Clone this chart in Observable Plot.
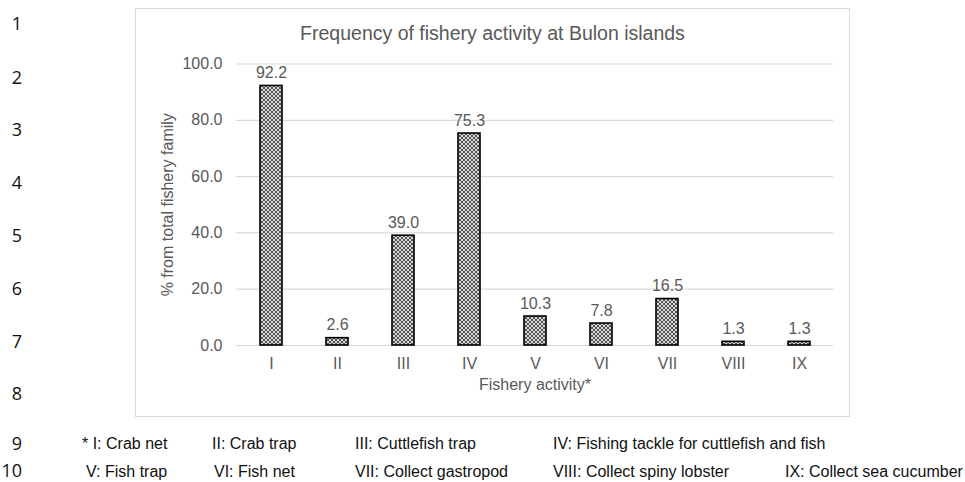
<!DOCTYPE html>
<html>
<head>
<meta charset="utf-8">
<script src="https://cdn.jsdelivr.net/npm/d3@7"></script>
<script src="https://cdn.jsdelivr.net/npm/@observablehq/plot@0.6"></script>
<style>
  html, body { margin: 0; padding: 0; background: #fff; }
  #wrap { position: relative; width: 965px; height: 482px; overflow: hidden; font-family: "Liberation Sans", Arial, sans-serif; }
  #chart { position: absolute; left: 0; top: 0; }
  .ov { position: absolute; white-space: nowrap; pointer-events: none; }
  .ln { font-family: "Open Sans", "Noto Sans", sans-serif; font-size: 18px; color: #111; width: 22px; text-align: right; left: 0; transform: translateY(-50%); }
  .fn { font-size: 16px; color: #111; transform: translateY(-50%); }
  #frame { position: absolute; left: 135px; top: 8px; width: 715px; height: 409px; border: 1.5px solid #d9d9d9; box-sizing: border-box; pointer-events: none; }
  #title { left: 135px; width: 715px; text-align: center; top: 33px; font-size: 19.5px; color: #595959; transform: translateY(-50%); }
</style>
</head>
<body>
<div id="wrap">
  <div id="chart"></div>
  <div id="frame"></div>
  <div class="ov" id="title">Frequency of fishery activity at Bulon islands</div>
</div>
<script>
// Data
const categories = ["I", "II", "III", "IV", "V", "VI", "VII", "VIII", "IX"];
const values = [92.2, 2.6, 39.0, 75.3, 10.3, 7.8, 16.5, 1.3, 1.3];
const yTicks = [0, 20, 40, 60, 80, 100];
const lineNumbers = ["1", "2", "3", "4", "5", "6", "7", "8", "9", "10"];
const lineNumberY = [23, 77, 129, 182, 235, 288, 341, 393, 443, 470];
const footRow1 = ["* I: Crab net", "II: Crab trap", "III: Cuttlefish trap", "IV: Fishing tackle for cuttlefish and fish"];
const footRow2 = ["V: Fish trap", "VI: Fish net", "VII: Collect gastropod", "VIII: Collect spiny lobster", "IX: Collect sea cucumber"];
const footRow1X = [82, 212, 355, 553];
const footRow2X = [86, 214, 355, 553, 785];
const yLabel = "% from total fishery family";
const xLabel = "Fishery activity*";

const data = categories.map((c, i) => ({cat: c, value: values[i]}));

const gray = "#595959";
const fs = 16;

const chart = Plot.plot({
  width: 965,
  height: 482,
  marginLeft: 236,
  marginRight: 132,
  marginTop: 63.5,
  marginBottom: 137,
  style: {fontFamily: "'Liberation Sans', Arial, sans-serif", background: "white"},
  x: {domain: categories, paddingInner: 0.67, paddingOuter: 0.335},
  y: {domain: [0, 100]},
  marks: [
    Plot.gridY(yTicks, {stroke: "#d9d9d9", strokeOpacity: 1, strokeWidth: 1.2}),
    Plot.axisY(yTicks, {tickSize: 0, tickPadding: 14, tickFormat: d => d.toFixed(1), fontSize: fs, fill: gray, label: null}),
    Plot.axisX({tickSize: 0, tickPadding: 12, fontSize: fs, fill: gray, label: null}),
    Plot.barY(data, {x: "cat", y: "value", fill: "url(#xhatch)", stroke: "#000", strokeWidth: 1.6}),
    Plot.text(data, {x: "cat", y: "value", text: d => d.value.toFixed(1), dy: -13, fontSize: fs, fill: gray}),
    Plot.text([yLabel], {frameAnchor: "left", textAnchor: "middle", dx: -69, rotate: -90, fontSize: 16, fill: gray}),
    Plot.text([xLabel], {frameAnchor: "bottom", textAnchor: "middle", dy: 44, fontSize: 16, fill: gray})
  ]
});

// pattern defs
const ns = "http://www.w3.org/2000/svg";
const defs = document.createElementNS(ns, "defs");
defs.innerHTML = `
  <pattern id="xhatch" patternUnits="userSpaceOnUse" width="4" height="4">
    <rect width="4" height="4" fill="#d8d8d8"></rect>
    <path d="M0,0L4,4M4,0L0,4" stroke="#444" stroke-width="0.9"></path>
  </pattern>`;
chart.insertBefore(defs, chart.firstChild);
document.getElementById("chart").appendChild(chart);

const wrap = document.getElementById("wrap");
lineNumbers.forEach((t, i) => {
  const d = document.createElement("div");
  d.className = "ov ln";
  d.style.top = lineNumberY[i] + "px";
  d.textContent = t;
  wrap.appendChild(d);
});
function addRow(texts, xs, y) {
  texts.forEach((t, i) => {
    const d = document.createElement("div");
    d.className = "ov fn";
    d.style.left = xs[i] + "px";
    d.style.top = y + "px";
    d.textContent = t;
    wrap.appendChild(d);
  });
}
addRow(footRow1, footRow1X, 444);
addRow(footRow2, footRow2X, 472);
</script>
</body>
</html>
